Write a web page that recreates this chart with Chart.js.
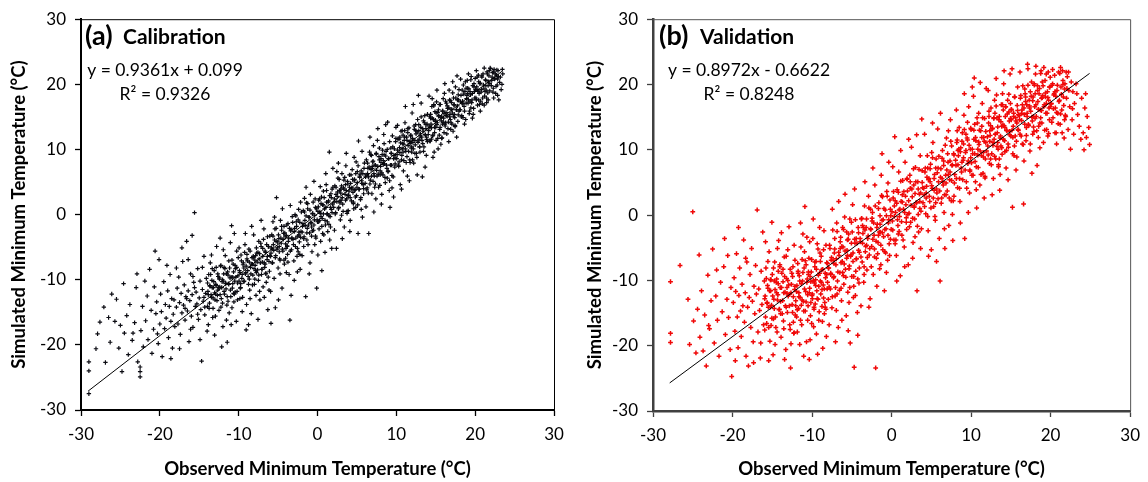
<!DOCTYPE html>
<html><head><meta charset="utf-8">
<script src="https://cdn.jsdelivr.net/npm/chart.js@4.4.1/dist/chart.umd.min.js"></script>
<style>
html,body{margin:0;padding:0;background:#fff;}
#wrap{position:relative;width:1148px;height:482px;overflow:hidden;background:#fff;}
canvas{position:absolute;top:0;}
#ca{left:0}
#cb{left:574px}
</style></head><body>
<div id="wrap"><canvas id="ca" width="574" height="482"></canvas><canvas id="cb" width="574" height="482"></canvas></div>
<script>
// ---- data ----
const axisTicks = [-30, -20, -10, 0, 10, 20, 30];
const xAxisTitle = 'Observed Minimum Temperature (°C)';
const yAxisTitle = 'Simulated Minimum Temperature (°C)';
const panelTags = ['(a)', '(b)'];
const panelNames = ['Calibration', 'Validation'];
const equations = ['y = 0.9361x + 0.099', 'y = 0.8972x - 0.6622'];
const r2Labels = ['R² = 0.9326', 'R² = 0.8248'];
const calibrationFit = [[-29.1, -27.1], [23.4, 22.0]];
const validationFit = [[-27.9, -25.7], [24.9, 21.7]];

// (observed, simulated) pairs, panel (a): scattered points
const calibrationPoints = [
[-29,-22.6],[-29,-24],[-29,-27.5],[-28.1,-20.6],[-27.6,-16.5],[-27.1,-14.2],[-26.9,-22.7],[-26.5,-15.8],[-26.3,-19.6],[-26.1,-12.2],[-27.9,-18.3],
[-25.5,-13],[-25,-17],[-25.2,-20.5],[-24.8,-24.1],[-24.5,-18.2],[-24.2,-15.5],[-24,-21.5],[-23.8,-13.8],[-23.5,-19.3],[-23.2,-16.6],[-23,-11.2],[-22.8,-22.6],[-22.5,-23.4],[-22.5,-24.1],[-22.5,-24.9],[-22.4,-17.8],[-22.2,-14.1],[-22.1,-20.3],[-22.9,-9.1],[-24.6,-10.6],[-25.7,-16.4],[-23.4,-18.2],
[-21.8,-16.3],[-21.6,-12.5],[-21.5,-19.2],[-21.3,-8.4],[-21.1,-14.7],[-21,-21.3],[-20.8,-17.6],[-20.7,-11.1],[-20.5,-15.2],[-20.4,-13.4],[-20.2,-19.8],[-20.1,-6.9],[-20,-16.8],[-19.9,-12.2],[-19.8,-14.9],[-19.7,-21.8],[-19.5,-10.3],[-19.4,-17.5],[-19.3,-13.8],[-19.2,-15.9],[-19,-11.7],[-18.9,-18.9],[-18.8,-14.1],[-18.7,-9.2],[-18.6,-16.4],[-18.5,-12.9],[-18.4,-20.5],[-18.3,-15.3],[-18.2,-13.1],[-18.1,-17.2],[-20.6,-5.6],[-21.9,-10.2],[-19.1,-7.8],[-18.6,-22.1],[-20.3,-18.3],
[-17.9,-14.2],[-17.8,-11.3],[-17.7,-16.8],[-17.6,-9.6],[-17.5,-13.5],[-17.4,-18.4],[-17.3,-12.1],[-17.2,-15.1],[-17.1,-7.2],[-17,-13.9],[-16.9,-10.8],[-16.8,-16.2],[-16.7,-12.6],[-16.6,-4.1],[-16.5,-14.8],[-16.4,-11.7],[-16.3,-19.5],[-16.2,-13.2],[-16.1,-9.1],[-16,-15.6],[-15.9,-12.3],[-15.8,-17.3],[-15.7,-10.4],[-15.6,0.3],[-15.5,-14.1],[-15.4,-11.9],[-15.3,-13.7],[-15.2,-8.3],[-15.1,-16.1],[-15,-12.8],[-14.9,-10.2],[-14.8,-14.6],[-14.7,-22.5],[-14.6,-11.5],[-14.5,-13.3],[-14.4,-6.4],[-14.3,-15.4],[-14.2,-12.1],[-14.1,-9.8],[-14,-17.9],[-17.5,-20.6],[-16.4,-6.9],[-15.9,-3.2],[-14.9,-19.2],[-15.6,-11.2],[-16.8,-14.4],[-17.2,-5.1],[-14.4,-12.7],[-15.2,-15.3],[-16.1,-17.6],[-14.6,-8.1],[-17.9,-8.2],[-15.8,-9.5],[-14.3,-14.2],[-16.6,-12.9],
[-13.9,-11.8],[-13.8,-9.2],[-13.7,-13.6],[-13.6,-7.4],[-13.5,-12.3],[-13.4,-10.1],[-13.3,-15.8],[-13.2,-11.2],[-13.1,-8.6],[-13,-13.1],[-12.9,-10.7],[-12.8,-4.9],[-12.7,-12.4],[-12.6,-9.5],[-12.5,-14.7],[-12.4,-11.1],[-12.3,-7.9],[-12.2,-12.9],[-12.1,-10.3],[-12,-17.2],[-11.9,-9.1],[-11.8,-12.2],[-11.7,-6.3],[-11.6,-11.4],[-11.5,-13.9],[-11.4,-8.8],[-11.3,-10.6],[-11.2,-15.1],[-11.1,-9.7],[-11,-12.6],[-10.9,-1.7],[-10.8,-11.3],[-10.7,-7.6],[-10.6,-13.4],[-10.5,-10.2],[-10.4,-8.3],[-10.3,-16.4],[-10.2,-11.8],[-10.1,-9.4],[-13.85,-16.9],[-13.45,-6.2],[-13.05,-18.5],[-12.65,-11.6],[-12.25,-14.2],[-11.85,-8.1],[-11.45,-19.6],[-11.05,-4.3],[-10.65,-12.1],[-10.25,-5.6],[-13.65,-10.9],[-13.25,-12.8],[-12.85,-8.1],[-12.45,-9.9],[-12.05,-13.6],[-11.65,-10.5],[-11.25,-7.1],[-10.85,-14.3],[-10.45,-11.9],[-10.15,-13.1],[-13.95,-14.1],[-12.95,-15.6],[-11.95,-5.4],[-10.95,-16.9],[-10.55,-2.9],[-12.35,-3.6],[-13.35,-8.3],[-11.35,-13.3],[-10.75,-9.6],[-12.15,-20.3],[-11.55,-16.2],
[-9.9,-8.6],[-9.8,-11.3],[-9.7,-6.2],[-9.6,-9.8],[-9.5,-12.7],[-9.4,-7.4],[-9.3,-10.2],[-9.2,-4.6],[-9.1,-8.9],[-9,-13.8],[-8.9,-7.1],[-8.8,-9.5],[-8.7,-5.3],[-8.6,-11.6],[-8.5,-8.1],[-8.4,-15.2],[-8.3,-6.6],[-8.2,-9.3],[-8.1,-3.1],[-8,-10.7],[-7.9,-7.8],[-7.8,-12.4],[-7.7,-5.9],[-7.6,-8.5],[-7.5,-10.1],[-7.4,-6.8],[-7.3,-13.1],[-7.2,-4.4],[-7.1,-9.2],[-7,-7.3],[-6.9,-11.1],[-6.8,-2.2],[-6.7,-8.1],[-6.6,-5.8],[-6.5,-10.4],[-6.4,-6.9],[-6.3,-14.6],[-6.2,-4.9],[-6.1,-8.7],[-9.95,-5.1],[-9.55,-14.9],[-9.15,-2.9],[-8.75,-16.9],[-8.35,-1.8],[-7.95,-9.9],[-7.55,-16.1],[-7.15,-0.9],[-6.75,-12.7],[-6.35,-3.4],[-9.75,-10.6],[-9.35,-8.2],[-8.95,-6.1],[-8.55,-12.9],[-8.15,-6.4],[-7.75,-8.9],[-7.35,-11.8],[-6.95,-5.2],[-6.55,-9.1],[-6.15,-11.6],[-9.85,-12.9],[-9.05,-17.7],[-8.25,-7.6],[-7.45,-4.1],[-6.65,-7.6],[-6.05,-6.3],[-8.65,-9.9],[-7.85,-6.3],[-7.05,-8.4],[-6.25,-9.6],[-5.9,-16.7],
[-5.9,-5.9],[-5.8,-3.1],[-5.7,-7.4],[-5.6,-4.6],[-5.5,-9.8],[-5.4,-2.2],[-5.3,-6.3],[-5.2,2.6],[-5.1,-5.1],[-5,-8.2],[-4.9,-3.7],[-4.8,-6.8],[-4.7,-0.9],[-4.6,-4.4],[-4.5,-11.3],[-4.4,-5.6],[-4.3,-2.9],[-4.2,-7.6],[-4.1,-3.4],[-4,-5.2],[-3.9,-1.6],[-3.8,-6.1],[-3.7,-4.1],[-3.6,-9.2],[-3.5,-16.2],[-3.4,-2.5],[-3.3,-5.4],[-3.2,-0.3],[-3.1,-3.8],[-3,-7.1],[-2.9,-2.1],[-2.8,-4.9],[-2.7,-1.1],[-2.6,-6.4],[-2.5,-3.3],[-2.4,0.8],[-2.3,-4.2],[-2.2,-8.4],[-2.1,-2.6],[-5.95,-11.8],[-5.45,-0.4],[-4.95,-13.1],[-4.45,0.9],[-3.95,-8.9],[-3.45,1.4],[-2.95,-10.1],[-2.45,-5.7],[-5.75,-5.3],[-5.25,-4.1],[-4.75,-9.1],[-4.25,-1.8],[-3.75,-7.3],[-3.25,-3.6],[-2.75,-0.2],[-2.25,-6.1],[-5.65,-1.1],[-4.85,-5.7],[-4.05,-6.7],[-3.35,-12.4],[-2.55,-8.8],[-2.15,1.9],[-5.35,-14.3],[-4.55,-2.4],[-3.85,-4.8],[-2.35,-3.1],
[-1.9,-1.8],[-1.8,0.6],[-1.7,-3.4],[-1.6,-0.9],[-1.5,-12.6],[-1.4,1.8],[-1.3,-2.1],[-1.2,-4.6],[-1.1,-0.4],[-1,-2.8],[-0.9,3.1],[-0.8,-1.3],[-0.7,-5.7],[-0.6,0.2],[-0.5,-2.4],[-0.4,-0.8],[-0.3,2.4],[-0.2,-3.6],[-0.1,-11.3],[0,-1.1],[0.1,1.2],[0.2,-2.2],[0.3,0.4],[0.4,-4.1],[0.5,2.7],[0.6,-0.6],[0.7,1.5],[0.8,-3.1],[0.9,0.9],[1,-1.6],[1.1,4.6],[1.2,0.1],[1.3,-2.6],[1.4,2.1],[1.5,9.6],[1.6,-0.3],[1.7,3.2],[1.8,-5.2],[1.9,1.6],[-1.95,-6.3],[-1.45,4.2],[-0.95,-7.4],[-0.45,5.1],[0.05,-6.2],[0.55,-8.6],[1.05,6.3],[1.55,-3.9],[1.95,7.1],[-1.75,-4.9],[-1.25,0.9],[-0.75,-1.9],[-0.25,1.1],[0.25,-0.9],[0.75,3.6],[1.25,-1.1],[1.75,0.8],[-1.65,2.5],[-1.05,-9.1],[-0.35,-4.6],[0.35,4.3],[0.95,-5.8],[1.45,-0.1],[1.85,3.9],[-1.35,-3.9],[-0.65,-2.5],[0.15,2.2],[0.65,-2.9],[1.15,1.9],[1.65,-1.9],[0.45,-0.3],
[2.1,1.9],[2.2,4.4],[2.3,0.3],[2.4,-5.2],[2.5,2.8],[2.6,5.6],[2.7,1.1],[2.8,3.7],[2.9,-0.8],[3,2.2],[3.1,6.3],[3.2,1.6],[3.3,4.1],[3.4,-1.9],[3.5,3.1],[3.6,7.5],[3.7,2.4],[3.8,5.1],[3.9,0.6],[4,3.6],[4.1,-2.6],[4.2,4.8],[4.3,2.1],[4.4,6.9],[4.5,3.4],[4.6,0.9],[4.7,5.4],[4.8,2.7],[4.9,8.1],[5,4.2],[5.1,1.5],[5.2,11.3],[5.3,3.9],[5.4,6.2],[5.5,2.6],[5.6,5.2],[5.7,-0.4],[5.8,4.6],[5.9,7.1],[2.15,-2.4],[2.65,7.9],[3.15,-3.7],[3.65,9.4],[4.15,-0.9],[4.65,8.8],[5.15,-2.9],[5.65,9.7],[2.35,3.1],[2.85,1.8],[3.35,5.3],[3.85,2.9],[4.35,4.1],[4.85,1.1],[5.35,5.9],[5.85,3.2],[2.45,6.6],[3.05,-0.1],[3.55,4.6],[4.05,6.1],[4.55,1.7],[5.05,6.6],[5.55,0.8],[2.95,3.9],[4.75,3.8],[3.75,0.2],
[6.1,5.8],[6.2,8.4],[6.3,4.1],[6.4,7.1],[6.5,-2.9],[6.6,9.6],[6.7,5.3],[6.8,6.9],[6.9,3.2],[7,8.1],[7.1,10.6],[7.2,5.9],[7.3,7.6],[7.4,2.4],[7.5,6.8],[7.6,11.4],[7.7,6.2],[7.8,8.9],[7.9,4.5],[8,7.4],[8.1,1.6],[8.2,9.2],[8.3,6.1],[8.4,12.3],[8.5,7.8],[8.6,4.9],[8.7,9.7],[8.8,7.1],[8.9,14.2],[9,8.6],[9.1,3.7],[9.2,1.1],[9.3,10.2],[9.4,7.6],[9.5,12.1],[9.6,5.8],[9.7,9.1],[9.8,7.3],[9.9,11.2],[6.15,1.2],[6.65,11.9],[7.15,0.4],[7.65,13.2],[8.15,3.1],[8.65,13.8],[9.15,5.2],[9.65,2.7],[6.35,6.3],[6.85,9.1],[7.35,4.7],[7.85,10.2],[8.35,8.3],[8.85,5.6],[9.35,9.4],[9.85,8.7],[6.45,3.3],[6.95,7.4],[7.45,9.3],[7.95,6.1],[8.45,10.9],[8.95,6.7],[9.45,4.1],[9.95,13.4],[7.05,5.1],[8.05,8.6],
[10.1,9.2],[10.2,11.6],[10.3,7.4],[10.4,10.3],[10.5,4.6],[10.6,12.8],[10.7,9.1],[10.8,10.9],[10.9,6.7],[11,11.4],[11.1,14.1],[11.2,9.7],[11.3,11.9],[11.4,5.9],[11.5,10.6],[11.6,13.3],[11.7,8.4],[11.8,12.1],[11.9,10.2],[12,15.6],[12.1,11.1],[12.2,7.9],[12.3,13.1],[12.4,10.7],[12.5,12.4],[12.6,8.8],[12.7,14.6],[12.8,18.3],[12.9,11.6],[13,9.6],[13.1,13.4],[13.2,11.9],[13.3,5.8],[13.4,12.8],[13.5,10.4],[13.6,15.2],[13.7,12.2],[13.8,9.1],[13.9,13.9],[10.15,13.7],[10.65,3.9],[11.15,16.6],[11.65,5.2],[12.15,16.9],[12.65,6.1],[13.15,17.1],[13.65,7.3],[10.35,8.1],[10.85,12.2],[11.35,8.9],[11.85,11.3],[12.35,9.4],[12.85,12.9],[13.35,10.9],[13.85,11.8],[10.45,11.9],[10.95,8.3],[11.45,12.6],[11.95,9.6],[12.45,13.8],[12.95,10.4],[13.45,14.4],[13.95,11.2],[10.75,10.1],[11.75,10.9],[12.75,11.1],[13.75,13.2],[11.05,12.9],[12.05,8.4],[13.05,12.1],
[14.1,12.9],[14.2,15.1],[14.3,11.3],[14.4,13.9],[14.5,16.6],[14.6,12.1],[14.7,14.6],[14.8,9.6],[14.9,15.8],[15,13.4],[15.1,17.3],[15.2,14.1],[15.3,10.1],[15.4,15.2],[15.5,13.1],[15.6,16.9],[15.7,14.4],[15.8,11.8],[15.9,15.9],[16,14.8],[16.1,18.6],[16.2,13.6],[16.3,15.7],[16.4,12.4],[16.5,16.3],[16.6,14.2],[16.7,19.1],[16.8,15.4],[16.9,13.1],[17,17.2],[17.1,15.6],[17.2,12.8],[17.3,16.8],[17.4,14.9],[17.5,19.6],[17.6,16.1],[17.7,21.3],[17.8,14.3],[17.9,17.6],[14.15,18.2],[14.65,8.8],[15.15,19.1],[15.65,10.8],[16.15,20.1],[16.65,11.2],[17.15,20.4],[17.65,11.9],[14.35,14.8],[14.85,12.6],[15.35,16.1],[15.85,13.9],[16.35,17.1],[16.85,14.6],[17.35,15.4],[17.85,18.4],[14.45,11.6],[14.95,14.3],[15.45,12.2],[15.95,17.8],[16.45,15.1],[16.95,16.2],[17.45,13.7],[17.95,15.9],[14.25,13.4],[14.75,16.9],[15.25,15.7],[15.75,15.1],[16.25,14.1],[16.75,17.6],[17.25,17.9],[17.75,16.7],[15.05,11.4],[16.05,12.6],[17.05,13.9],[14.55,17.8],
[18.1,16.1],[18.2,18.3],[18.3,15.2],[18.4,17.4],[18.5,19.9],[18.6,16.6],[18.7,18.9],[18.8,14.6],[18.9,17.8],[19,20.6],[19.1,17.1],[19.2,19.3],[19.3,15.9],[19.4,18.4],[19.5,21.2],[19.6,17.6],[19.7,19.8],[19.8,16.3],[19.9,18.9],[20,20.9],[20.1,17.9],[20.2,19.6],[20.3,16.8],[20.4,21.4],[20.5,18.6],[20.6,20.1],[20.7,17.4],[20.8,19.2],[20.9,17],[21,21.6],[21.1,19.4],[21.2,18.2],[21.3,20.7],[21.4,19.1],[21.5,21.9],[21.6,18.7],[21.7,20.4],[21.8,22.1],[21.9,22.5],[18.15,20.8],[18.65,13.9],[19.15,21.6],[19.65,14.8],[20.15,22.1],[20.65,15.9],[21.15,16.8],[21.65,17.6],[18.35,17.1],[18.85,19.4],[19.35,17.4],[19.85,20.1],[20.35,19.1],[20.85,21.1],[21.35,19.8],[21.85,20.1],[18.45,14.9],[19.45,16.4],[20.45,17.6],[21.45,17.9],[19.05,18.6],
[22.1,20.6],[22.2,21.8],[22.3,19.4],[22.4,22.3],[22.5,20.9],[22.6,18.6],[22.7,21.4],[22.8,19.9],[22.9,22.1],[23,17.6],[23.1,20.3],[23.2,21.1],[23.3,19.2],[23.4,20],[23.5,21.6],[22.35,17.9],[22.85,18.3],[23.45,22.3]
];

// panel (a): points of the dense central band, one row per 1 °C of observed value
const calibrationCorePoints = [
[-13.95,-10.5],[-13.85,-12.3],[-13.75,-14.4],[-13.65,-11.0],[-13.55,-9.2],[-13.45,-12.7],[-13.35,-11.2],[-13.25,-14.4],[-13.15,-10.3],[-13.05,-12.0],
[-12.95,-12.2],[-12.85,-10.9],[-12.75,-13.2],[-12.65,-9.1],[-12.55,-11.2],[-12.45,-9.7],[-12.35,-12.3],[-12.25,-7.8],[-12.15,-11.2],[-12.05,-10.0],
[-11.95,-10.2],[-11.85,-11.8],[-11.75,-8.3],[-11.65,-10.6],[-11.55,-9.1],[-11.45,-12.6],[-11.35,-9.3],[-11.25,-10.7],[-11.15,-8.2],[-11.05,-11.6],
[-10.95,-9.6],[-10.85,-7.0],[-10.75,-10.6],[-10.65,-8.8],[-10.55,-12.2],[-10.45,-7.8],[-10.35,-9.6],[-10.25,-8.1],[-10.15,-10.5],[-10.05,-6.6],
[-9.95,-10.2],[-9.85,-8.9],[-9.75,-11.2],[-9.65,-7.1],[-9.55,-9.2],[-9.45,-7.7],[-9.35,-10.3],[-9.25,-5.8],[-9.15,-9.1],[-9.05,-7.9],
[-8.95,-6.8],[-8.85,-8.6],[-8.75,-10.7],[-8.65,-7.3],[-8.55,-5.6],[-8.45,-9.1],[-8.35,-7.6],[-8.25,-10.8],[-8.15,-6.6],[-8.05,-8.3],
[-7.95,-7.0],[-7.85,-8.6],[-7.75,-5.1],[-7.65,-7.3],[-7.55,-5.8],[-7.45,-9.3],[-7.35,-6.0],[-7.25,-7.4],[-7.15,-4.9],[-7.05,-8.4],
[-6.95,-6.4],[-6.85,-3.8],[-6.75,-7.4],[-6.65,-5.6],[-6.55,-9.0],[-6.45,-4.6],[-6.35,-6.4],[-6.25,-4.9],[-6.15,-7.2],[-6.05,-3.3],
[-5.95,-6.4],[-5.85,-5.1],[-5.75,-7.4],[-5.65,-3.3],[-5.55,-5.5],[-5.45,-3.9],[-5.35,-6.6],[-5.25,-2.1],[-5.15,-5.4],[-5.05,-4.2],
[-4.95,-3.1],[-4.85,-4.9],[-4.75,-7.0],[-4.65,-3.6],[-4.55,-1.8],[-4.45,-5.3],[-4.35,-3.8],[-4.25,-7.0],[-4.15,-2.8],[-4.05,-4.5],
[-3.95,-3.2],[-3.85,-4.9],[-3.75,-1.4],[-3.65,-3.6],[-3.55,-2.1],[-3.45,-5.6],[-3.35,-2.3],[-3.25,-3.7],[-3.15,-1.2],[-3.05,-4.6],
[-2.95,-2.6],[-2.85,0.0],[-2.75,-3.6],[-2.65,-1.8],[-2.55,-5.2],[-2.45,-0.8],[-2.35,-2.7],[-2.25,-1.2],[-2.15,-3.5],[-2.05,0.4],
[-1.95,-2.7],[-1.85,-1.4],[-1.75,-3.7],[-1.65,0.4],[-1.55,-1.7],[-1.45,-0.2],[-1.35,-2.8],[-1.25,1.7],[-1.15,-1.6],[-1.05,-0.4],
[-0.95,0.7],[-0.85,-1.2],[-0.75,-3.3],[-0.65,0.1],[-0.55,1.9],[-0.45,-1.6],[-0.35,-0.1],[-0.25,-3.3],[-0.15,0.9],[-0.05,-0.8],
[0.05,0.5],[0.15,-1.1],[0.25,2.4],[0.35,0.2],[0.45,1.7],[0.55,-1.8],[0.65,1.5],[0.75,0.1],[0.85,2.6],[0.95,-0.9],
[1.05,1.1],[1.15,3.7],[1.25,0.1],[1.35,1.9],[1.45,-1.5],[1.55,2.9],[1.65,1.1],[1.75,2.6],[1.85,0.3],[1.95,4.2],
[2.05,1.1],[2.15,2.4],[2.25,0.1],[2.35,4.2],[2.45,2.0],[2.55,3.5],[2.65,0.9],[2.75,5.4],[2.85,2.1],[2.95,3.3],
[3.05,4.4],[3.15,2.6],[3.25,0.5],[3.35,3.9],[3.45,5.7],[3.55,2.2],[3.65,3.7],[3.75,0.5],[3.85,4.7],[3.95,3.0],
[4.05,4.2],[4.15,2.6],[4.25,6.1],[4.35,3.9],[4.45,5.4],[4.55,1.9],[4.65,5.2],[4.75,3.8],[4.85,6.3],[4.95,2.9],
[5.05,4.9],[5.15,7.5],[5.25,3.9],[5.35,5.7],[5.45,2.3],[5.55,6.7],[5.65,4.8],[5.75,6.3],[5.85,4.0],[5.95,7.9],
[6.05,4.8],[6.15,6.1],[6.25,3.8],[6.35,7.9],[6.45,5.8],[6.55,7.3],[6.65,4.7],[6.75,9.2],[6.85,5.9],[6.95,7.1],
[7.05,8.2],[7.15,6.3],[7.25,4.2],[7.35,7.6],[7.45,9.4],[7.55,5.9],[7.65,7.4],[7.75,4.2],[7.85,8.4],[7.95,6.7],
[8.05,8.0],[8.15,6.4],[8.25,9.9],[8.35,7.7],[8.45,9.2],[8.55,5.7],[8.65,9.0],[8.75,7.6],[8.85,10.0],[8.95,6.6],
[9.05,8.6],[9.15,11.2],[9.25,7.6],[9.35,9.4],[9.45,6.0],[9.55,10.4],[9.65,8.6],[9.75,10.1],[9.85,7.8],[9.95,11.7],
[10.05,8.6],[10.15,9.9],[10.25,7.6],[10.35,11.6],[10.45,9.5],[10.55,11.0],[10.65,8.4],[10.75,12.9],[10.85,9.6],[10.95,10.8],
[11.05,11.9],[11.15,10.1],[11.25,8.0],[11.35,11.4],[11.45,13.2],[11.55,9.7],[11.65,11.2],[11.75,8.0],[11.85,12.2],[11.95,10.4],
[12.05,11.7],[12.15,10.1],[12.25,13.6],[12.35,11.4],[12.45,12.9],[12.55,9.4],[12.65,12.7],[12.75,11.3],[12.85,13.8],[12.95,10.4],
[13.05,12.4],[13.15,15.0],[13.25,11.4],[13.35,13.2],[13.45,9.7],[13.55,14.1],[13.65,12.3],[13.75,13.8],[13.85,11.5],[13.95,15.4],
[14.05,12.3],[14.15,13.6],[14.25,11.3],[14.35,15.4],[14.45,13.3],[14.55,14.8],[14.65,12.2],[14.75,16.7],[14.85,13.4],[14.95,14.5],
[15.05,15.6],[15.15,13.8],[15.25,11.7],[15.35,15.1],[15.45,16.9],[15.55,13.4],[15.65,14.9],[15.75,11.7],[15.85,15.9],[15.95,14.2],
[16.05,15.5],[16.15,13.9],[16.25,17.4],[16.35,15.2],[16.45,16.7],[16.55,13.2],[16.65,16.4],[16.75,15.0],[16.85,17.5],[16.95,14.1],
[17.05,16.1],[17.15,18.7],[17.25,15.1],[17.35,16.9],[17.45,13.5],[17.55,17.9],[17.65,16.1],[17.75,17.6],[17.85,15.3],[17.95,19.2],
[18.05,16.1],[18.15,17.3],[18.25,15.0],[18.35,19.1],[18.45,17.0],[18.55,18.5],[18.65,15.9],[18.75,20.4],[18.85,17.1],[18.95,18.3],
[19.05,19.4],[19.15,17.6],[19.25,15.5],[19.35,18.9],[19.45,20.7],[19.55,17.2],[19.65,18.6],[19.75,15.4],[19.85,19.6],[19.95,17.9],
[20.05,19.2],[20.15,17.6],[20.25,21.1],[20.35,18.9],[20.45,20.4],[20.55,16.9],[20.65,20.2],[20.75,18.8],[20.85,21.3],[20.95,17.9],
[21.05,19.9],[21.15,22.5],[21.25,18.9],[21.35,20.6],[21.45,17.2],[21.55,21.6],[21.65,19.8],[21.75,21.3],[21.85,19.0],[21.95,22.4],
[22.05,19.8],[22.15,21.1],[22.25,18.8],[22.35,21.9],[22.45,20.8],[22.55,21.6],[22.65,19.7],[22.75,22.2],[22.85,20.8],[22.95,21.2]
];

// (observed, simulated) pairs, panel (b): scattered points
const validationPoints = [
[-27.8,-10.2],[-27.8,-18.1],[-27.8,-19.5],[-26.6,-7.7],[-25.6,-12.9],[-25,0.5],[-25.4,-19.8],[-24.9,-16.2],[-24.6,-21.1],[-24.4,-14.4],[-24.2,-6.1],[-24.1,-18.7],
[-23.9,-11.6],[-23.7,-20.8],[-23.5,-15.3],[-23.3,-23.1],[-23.1,-9.2],[-22.9,-17.4],[-22.7,-13.1],[-22.5,-5.2],[-22.3,-19.6],[-22.1,-12.4],[-21.9,-16.1],[-21.7,-21.6],[-21.5,-10.3],[-21.3,-14.8],[-21.1,-7.9],[-20.9,-18.3],[-20.7,-12.9],[-20.5,-15.7],[-20.3,-20.6],[-20.1,-24.7],[-20.2,-11.1],[-21,-3.6],[-22,-8.4],[-23,-16.9],[-20.6,-6.2],
[-19.9,-13.4],[-19.8,-9.6],[-19.7,-17.8],[-19.6,-11.7],[-19.5,-5.9],[-19.4,-15.6],[-19.3,-20.3],[-19.2,-12.3],[-19.1,-8.1],[-19,-14.7],[-18.9,-18.6],[-18.8,-10.6],[-18.7,-13.9],[-18.6,-3.8],[-18.5,-16.4],[-18.4,-11.9],[-18.3,-21.6],[-18.2,-7.2],[-18.1,-14.1],[-18,-23.1],[-17.9,-12.6],[-17.8,-9.1],[-17.7,-17.2],[-17.6,-5.1],[-17.5,-13.2],[-17.4,-19.4],[-17.3,-10.9],[-17.2,-15.1],[-17.1,-7.7],[-17,-12.1],[-16.9,0.8],[-16.8,-17.9],[-16.7,-11.3],[-16.6,-14.6],[-16.5,-21.9],[-16.4,-8.6],[-16.3,-13.7],[-16.2,-2.6],[-16.1,-16.8],[-16,-10.1],[-19.25,-1.9],[-18.35,-6.6],[-17.35,-22.6],[-16.45,-19.6],[-19.65,-22.3],
[-15.9,-12.4],[-15.8,-8.1],[-15.7,-16.6],[-15.6,-10.8],[-15.5,-14.1],[-15.4,-5.6],[-15.3,-19.3],[-15.2,-11.6],[-15.1,-13.8],[-15,-9.1],[-14.9,-21.4],[-14.8,-12.9],[-14.7,-7.2],[-14.6,-15.6],[-14.5,-10.3],[-14.4,-17.9],[-14.3,-12.2],[-14.2,-3.9],[-14.1,-14.4],[-14,-11.1],[-13.9,-18.7],[-13.8,-8.9],[-13.7,-13.1],[-13.6,-16.2],[-13.5,-6.4],[-13.4,-11.8],[-13.3,-20.6],[-13.2,-9.7],[-13.1,-14.9],[-13,-12.4],[-12.9,-1.8],[-12.8,-16.8],[-12.7,-23.4],[-12.6,-10.6],[-12.5,-13.7],[-12.4,-7.9],[-12.3,-18.1],[-12.2,-11.4],[-12.1,-15.3],[-15.85,-4.1],[-15.45,-22.3],[-15.05,-1.1],[-14.65,-19.8],[-14.25,-8.6],[-13.85,-2.7],[-13.45,-22.1],[-13.05,-5.3],[-12.65,-19.7],[-12.25,-4.6],[-15.65,-13.4],[-15.25,-9.9],[-14.85,-15.9],[-14.45,-11.9],[-14.05,-7.6],[-13.65,-10.2],[-13.25,-14.1],[-12.85,-12.1],[-12.45,-9.4],[-12.05,-13.1],[-15.95,-17.6],[-15.15,-16.9],[-14.35,-5.1],[-13.55,-17.4],[-12.75,-8.3],[-15.55,-7.1],[-14.75,-10.1],[-13.95,-15.1],[-13.15,-11.1],[-12.35,-16.4],[-12.15,-6.9],
[-11.9,-10.8],[-11.8,-7.4],[-11.7,-14.3],[-11.6,-9.3],[-11.5,-12.6],[-11.4,-4.9],[-11.3,-16.8],[-11.2,-10.1],[-11.1,-13.2],[-11,-8.1],[-10.9,1.3],[-10.8,-11.7],[-10.7,-19.4],[-10.6,-9.8],[-10.5,-13.9],[-10.4,-6.6],[-10.3,-11.2],[-10.2,-15.4],[-10.1,-8.7],[-10,-12.3],[-9.9,-3.6],[-9.8,-17.1],[-9.7,-10.4],[-9.6,-13.6],[-9.5,-7.1],[-9.4,-11.6],[-9.3,-21.3],[-9.2,-9.2],[-9.1,-14.8],[-9,-5.8],[-8.9,-12.1],[-8.8,-8.4],[-8.7,-16.3],[-8.6,-10.7],[-8.5,-2.4],[-8.4,-13.4],[-8.3,-9.6],[-8.2,-18.6],[-8.1,-11.3],[-11.85,-17.9],[-11.45,-1.2],[-11.05,-21.6],[-10.65,-3.4],[-10.25,-19.1],[-9.85,-0.6],[-9.45,-18.2],[-9.05,-1.9],[-8.65,-20.4],[-8.25,-4.6],[-11.65,-11.9],[-11.25,-6.8],[-10.85,-14.7],[-10.45,-9.1],[-10.05,-16.6],[-9.65,-7.9],[-9.25,-12.9],[-8.85,-6.3],[-8.45,-15.1],[-8.05,-7.4],[-11.75,-8.9],[-11.35,-13.8],[-10.95,-5.6],[-10.55,-12.2],[-10.15,-10.2],[-9.75,-14.4],[-9.35,-4.4],[-8.95,-10.1],[-8.55,-12.7],[-8.15,-9.1],[-11.95,-15.6],[-11.15,-2.9],[-10.35,-22.1],[-9.55,-9.9],[-8.75,-11.4],[-11.55,-19.8],[-10.75,-7.6],[-9.95,-12.8],[-9.15,-16.1],[-8.35,-14.1],[-10.3,-4.1],
[-7.9,-8.1],[-7.8,-4.6],[-7.7,-11.3],[-7.6,-6.9],[-7.5,-14.2],[-7.4,-2.3],[-7.3,-9.6],[-7.2,-5.8],[-7.1,-12.4],[-7,-7.6],[-6.9,-1.2],[-6.8,-10.1],[-6.7,-17.2],[-6.6,-6.2],[-6.5,-8.8],[-6.4,-3.4],[-6.3,-13.1],[-6.2,-7.1],[-6.1,-4.9],[-6,-10.6],[-5.9,-0.3],[-5.8,-8.3],[-5.7,-15.4],[-5.6,-5.4],[-5.5,-11.8],[-5.4,-2.9],[-5.3,-7.8],[-5.2,-19.6],[-5.1,-6.1],[-5,-9.4],[-4.9,1.6],[-4.8,-12.6],[-4.7,-23.3],[-4.6,-4.3],[-4.5,-8.6],[-4.4,-6.7],[-4.3,-14.9],[-4.2,-1.9],[-4.1,-10.4],[-7.85,-16.8],[-7.45,0.9],[-7.05,-19.4],[-6.65,2.1],[-6.25,-16.1],[-5.85,3.2],[-5.45,-17.7],[-5.05,-1.1],[-4.65,4.0],[-4.25,-18.4],[-7.65,-9.1],[-7.25,-7.4],[-6.85,-12.1],[-6.45,-5.1],[-6.05,-9.3],[-5.65,-6.6],[-5.25,-11.1],[-4.85,-7.1],[-4.45,-3.6],[-4.05,-8.1],[-7.95,-12.9],[-7.15,-3.6],[-6.35,-11.2],[-5.55,-3.8],[-4.75,-10.9],[-4.15,-5.4],[-6.95,-14.6],[-6.15,-1.9],[-5.35,-13.4],[-4.55,-12.3],
[-3.9,-4.1],[-3.8,-0.6],[-3.7,-7.2],[-3.6,-2.8],[-3.5,-10.3],[-3.4,1.4],[-3.3,-5.6],[-3.2,-1.9],[-3.1,-8.4],[-3,-3.6],[-2.9,2.9],[-2.8,-6.1],[-2.7,-12.8],[-2.6,-2.2],[-2.5,-4.8],[-2.4,0.4],[-2.3,-9.1],[-2.2,-3.1],[-2.1,4.6],[-2,-23.4],[-1.9,-6.6],[-1.8,-1.4],[-1.7,-4.2],[-1.6,1.9],[-1.5,-8.2],[-1.4,-2.6],[-1.3,6.1],[-1.2,-0.8],[-1.1,-5.3],[-1,-3.3],[-0.9,-11.6],[-0.8,0.8],[-0.7,-2.1],[-0.6,3.6],[-0.5,-6.9],[-0.4,-1.2],[-0.3,-4.4],[-0.2,2.3],[-0.1,-0.1],[-3.85,-13.9],[-3.35,5.1],[-2.85,-14.1],[-2.35,7.2],[-1.85,-10.9],[-1.35,-7.6],[-1.2,9.4],[-0.35,8.1],[-3.65,-1.6],[-3.15,-4.6],[-2.65,0.9],[-2.15,-6.4],[-1.65,-3.1],[-1.15,2.8],[-0.65,-8.8],[-0.15,-3.7],[-3.45,-9.1],[-2.45,-0.9],[-1.45,-1.4],[-0.45,4.9],[-0.85,-5.6],
[0.1,-0.9],[0.2,2.6],[0.3,-3.8],[0.4,12],[0.5,0.4],[0.6,-6.2],[0.7,3.9],[0.8,-1.6],[0.9,6.6],[1,-0.2],[1.1,-9.3],[1.2,2.1],[1.3,-3.1],[1.4,5.3],[1.5,0.9],[1.6,-4.9],[1.7,8.1],[1.8,1.6],[1.9,-2.2],[2,3.7],[2.1,-7.6],[2.2,0.3],[2.3,6.1],[2.4,-1.1],[2.5,10.4],[2.6,2.8],[2.7,-4.2],[2.8,4.6],[2.9,-0.6],[3,7.3],[3.1,1.9],[3.2,-11.6],[3.3,5.1],[3.4,-2.6],[3.5,3.2],[3.6,9.1],[3.7,0.6],[3.8,14.7],[3.9,4.2],[0.15,7.4],[0.65,-10.1],[1.15,9.9],[1.65,-7.9],[2.15,11.6],[2.65,-6.6],[3.15,12.3],[3.65,-5.1],[0.35,1.4],[0.85,-2.9],[1.35,3.1],[1.85,-0.4],[2.35,4.1],[2.85,1.2],[3.35,0.1],[3.85,6.8],[0.95,0.8],[1.95,5.6],[2.95,-3.3],[0.45,-4.4],[3.55,2.1],
[4.1,3.1],[4.2,6.6],[4.3,0.2],[4.4,4.4],[4.5,9.1],[4.6,-2.4],[4.7,5.6],[4.8,2.1],[4.9,7.8],[5,-5.3],[5.1,4.1],[5.2,11.1],[5.3,1.3],[5.4,6.2],[5.5,-0.8],[5.6,8.6],[5.7,3.4],[5.8,13.2],[5.9,5.1],[6,-3.6],[6.1,-10.1],[6.2,7.1],[6.3,2.6],[6.4,9.9],[6.5,4.6],[6.6,0.4],[6.7,-5.1],[6.8,6.1],[6.9,11.8],[7,3.7],[7.1,8.1],[7.2,-1.6],[7.3,5.4],[7.4,14.6],[7.5,2.2],[7.6,7.6],[7.7,-3.9],[7.8,9.4],[7.9,4.9],[4.15,12.4],[4.65,-6.3],[5.15,14.1],[5.65,-7.1],[6.15,15.6],[6.65,-2.1],[7.15,12.9],[7.65,0.1],[4.35,2.6],[4.85,5.1],[5.35,3.8],[5.85,7.2],[6.35,5.6],[6.85,3.1],[7.35,6.6],[7.85,2.9],[4.55,7.2],[5.55,1.9],[6.55,8.3],[7.55,10.6],[5.05,9.6],
[8.1,7.6],[8.2,11.1],[8.3,4.2],[8.4,9.1],[8.5,13.4],[8.6,2.1],[8.7,10.3],[8.8,6.6],[8.9,12.6],[9,8.4],[9.1,15.3],[9.2,-3.6],[9.3,9.6],[9.4,5.1],[9.5,11.8],[9.6,7.9],[9.7,16.6],[9.8,3.4],[9.9,10.1],[10,13.1],[10.1,6.1],[10.2,9.4],[10.3,18.2],[10.4,21],[10.5,8.2],[10.6,11.4],[10.7,1.1],[10.8,14.1],[10.9,7.3],[11,10.8],[11.1,4.6],[11.2,12.9],[11.3,9.1],[11.4,17.1],[11.5,6.4],[11.6,11.9],[11.7,14.8],[11.8,8.6],[11.9,19.4],[8.15,16.1],[8.65,-1.2],[9.15,18.6],[9.65,0.4],[10.15,19.6],[10.65,3.9],[11.15,20.3],[11.65,2.6],[8.35,9.9],[8.85,8.1],[9.35,12.4],[9.85,6.9],[10.35,11.6],[10.85,10.1],[11.35,13.6],[11.85,11.1],[8.55,5.6],[9.55,14.2],[10.55,5.1],[11.55,9.6],[8.25,12.9],[9.05,10.9],[9.95,8.8],[10.95,15.6],[11.75,5.9],[10.45,13.9],
[12.1,10.6],[12.2,14.1],[12.3,7.9],[12.4,12.2],[12.5,16.4],[12.6,9.4],[12.7,13.3],[12.8,5.6],[12.9,11.6],[13,15.6],[13.1,8.6],[13.2,18.4],[13.3,12.6],[13.4,10.1],[13.5,14.6],[13.6,3.8],[13.7,12.1],[13.8,16.9],[13.9,9.3],[14,13.8],[14.1,20.1],[14.2,11.4],[14.3,15.1],[14.4,7.2],[14.5,12.9],[14.6,17.6],[14.7,10.4],[14.8,14.4],[14.9,21.6],[15,12.1],[15.1,16.1],[15.2,1.2],[15.3,13.6],[15.4,9.1],[15.5,18.1],[15.6,14.9],[15.7,11.3],[15.8,16.8],[15.9,13.1],[12.15,19.1],[12.65,3.1],[13.15,20.9],[13.65,6.2],[14.15,22.1],[14.65,5.4],[15.15,22.4],[15.65,6.9],[12.35,12.9],[12.85,14.8],[13.35,11.1],[13.85,13.6],[14.35,16.6],[14.85,12.3],[15.35,15.6],[15.85,19.6],[12.45,8.6],[12.95,17.6],[13.45,7.4],[13.95,18.6],[14.45,9.9],[14.95,17.1],[15.45,10.6],[15.95,15.4],[12.25,15.9],[12.75,11.1],[13.25,14.9],[13.75,10.6],[14.25,13.4],[14.75,15.8],[15.25,11.9],[15.75,14.1],[13.05,12.4],[14.05,16.1],[15.05,14.6],[13.55,8.6],
[16.1,14.6],[16.2,17.9],[16.3,12.1],[16.4,16.1],[16.5,19.8],[16.6,1.7],[16.7,15.4],[16.8,18.6],[16.9,11.4],[17,16.9],[17.1,23.1],[17.2,13.9],[17.3,17.6],[17.4,9.8],[17.5,15.9],[17.6,20.4],[17.7,14.4],[17.8,18.1],[17.9,12.8],[18,16.6],[18.1,21.6],[18.2,15.1],[18.3,7.6],[18.4,17.4],[18.5,13.6],[18.6,19.4],[18.7,16.1],[18.8,22.1],[18.9,14.1],[19,18.3],[19.1,11.1],[19.2,16.9],[19.3,20.6],[19.4,15.6],[19.5,13.1],[19.6,18.9],[19.7,21.9],[19.8,16.4],[19.9,19.6],[16.15,21.9],[16.65,8.3],[17.15,22.4],[17.65,6.4],[18.15,22.8],[18.65,10.3],[19.15,22.6],[19.65,12.1],[16.35,15.6],[16.85,17.4],[17.35,16.4],[17.85,15.1],[18.35,19.1],[18.85,17.9],[19.35,18.1],[19.85,14.6],[16.45,10.9],[16.95,13.4],[17.45,18.9],[17.95,19.9],[18.45,11.9],[18.95,20.4],[19.45,17.1],[19.95,21.1],[16.75,19.3],[17.75,12.4],[18.75,14.9],[19.75,17.6],[17.05,15.1],[18.05,18.6],
[20.1,17.1],[20.2,19.9],[20.3,14.9],[20.4,18.4],[20.5,21.4],[20.6,16.4],[20.7,12.6],[20.8,19.1],[20.9,15.6],[21,21.9],[21.1,17.6],[21.2,13.9],[21.3,19.6],[21.4,16.1],[21.5,22.1],[21.6,18.1],[21.7,11.8],[21.8,20.1],[21.9,15.1],[22,17.9],[22.1,21.2],[22.2,13.1],[22.3,19.1],[22.4,16.6],[22.5,10.1],[22.6,20.4],[22.7,14.6],[22.8,18.9],[22.9,12.4],[23,17.1],[23.2,20.1],[23.4,15.4],[23.6,13.6],[23.8,11.6],[23.9,17.9],[20.25,22.3],[20.75,10.9],[21.25,22.6],[21.75,14.6],[22.25,21.9],[22.75,16.3],[23.3,18.6],[20.55,18.9],[21.55,20.6],[22.05,19.4],
[24.2,10],[24.4,18.6],[24.6,15.1],[24.9,10.8],[24.1,12.6],[24.3,16.4],[24.8,13.4],[24.5,11.9]
];

// panel (b): points of the dense central cloud, one row per 1 °C of observed value
const validationCorePoints = [
[-15.95,-12.8],[-15.85,-15.6],[-15.75,-9.7],[-15.65,-13.5],[-15.55,-11.2],[-15.45,-17.2],[-15.35,-11.6],[-15.25,-14.1],[-15.15,-9.9],[-15.05,-15.8],
[-14.95,-12.4],[-14.85,-8.1],[-14.75,-14.3],[-14.65,-11.4],[-14.55,-17.2],[-14.45,-9.8],[-14.35,-13.0],[-14.25,-10.5],[-14.15,-14.5],[-14.05,-7.9],
[-13.95,-13.2],[-13.85,-11.1],[-13.75,-15.1],[-13.65,-8.3],[-13.55,-11.9],[-13.45,-9.4],[-13.35,-13.9],[-13.25,-6.3],[-13.15,-12.0],[-13.05,-10.0],
[-12.95,-10.7],[-12.85,-13.9],[-12.75,-17.5],[-12.65,-11.9],[-12.55,-8.9],[-12.45,-14.9],[-12.35,-12.5],[-12.25,-18.0],[-12.15,-10.9],[-12.05,-13.9],
[-11.95,-11.7],[-11.85,-14.5],[-11.75,-8.6],[-11.65,-12.5],[-11.55,-10.1],[-11.45,-16.1],[-11.35,-10.5],[-11.25,-13.0],[-11.15,-8.8],[-11.05,-14.7],
[-10.95,-11.3],[-10.85,-7.0],[-10.75,-13.3],[-10.65,-10.3],[-10.55,-16.1],[-10.45,-8.7],[-10.35,-11.9],[-10.25,-9.4],[-10.15,-13.4],[-10.05,-6.8],
[-9.95,-12.1],[-9.85,-10.0],[-9.75,-14.1],[-9.65,-7.2],[-9.55,-10.8],[-9.45,-8.3],[-9.35,-12.8],[-9.25,-5.2],[-9.15,-10.9],[-9.05,-8.9],
[-8.95,-7.1],[-8.85,-10.3],[-8.75,-14.0],[-8.65,-8.3],[-8.55,-5.3],[-8.45,-11.3],[-8.35,-8.9],[-8.25,-14.4],[-8.15,-7.3],[-8.05,-10.3],
[-7.95,-8.1],[-7.85,-11.0],[-7.75,-5.1],[-7.65,-8.9],[-7.55,-6.5],[-7.45,-12.5],[-7.35,-6.9],[-7.25,-9.4],[-7.15,-5.2],[-7.05,-11.1],
[-6.95,-6.7],[-6.85,-2.5],[-6.75,-8.7],[-6.65,-5.7],[-6.55,-11.5],[-6.45,-4.1],[-6.35,-7.3],[-6.25,-4.8],[-6.15,-8.8],[-6.05,-2.2],
[-5.95,-7.5],[-5.85,-5.5],[-5.75,-9.5],[-5.65,-2.6],[-5.55,-6.2],[-5.45,-3.7],[-5.35,-8.2],[-5.25,-0.6],[-5.15,-6.3],[-5.05,-4.3],
[-4.95,-2.6],[-4.85,-5.8],[-4.75,-9.4],[-4.65,-3.7],[-4.55,-0.7],[-4.45,-6.7],[-4.35,-4.3],[-4.25,-9.8],[-4.15,-2.7],[-4.05,-5.7],
[-3.95,-3.6],[-3.85,-6.4],[-3.75,-0.5],[-3.65,-4.3],[-3.55,-1.9],[-3.45,-7.9],[-3.35,-2.3],[-3.25,-4.8],[-3.15,-0.6],[-3.05,-6.5],
[-2.95,-3.2],[-2.85,1.1],[-2.75,-5.1],[-2.65,-2.1],[-2.55,-7.9],[-2.45,-0.5],[-2.35,-3.7],[-2.25,-1.2],[-2.15,-5.2],[-2.05,1.4],
[-1.95,-4.0],[-1.85,-1.9],[-1.75,-5.9],[-1.65,1.0],[-1.55,-2.6],[-1.45,-0.1],[-1.35,-4.6],[-1.25,3.0],[-1.15,-2.7],[-1.05,-0.7],
[-0.95,1.0],[-0.85,-2.2],[-0.75,-5.8],[-0.65,-0.1],[-0.55,2.9],[-0.45,-3.1],[-0.35,-0.7],[-0.25,-6.2],[-0.15,0.9],[-0.05,-2.2],
[0.05,0.5],[0.15,-2.3],[0.25,3.6],[0.35,-0.2],[0.45,2.2],[0.55,-3.8],[0.65,1.8],[0.75,-0.7],[0.85,3.5],[0.95,-2.5],
[1.05,0.9],[1.15,5.2],[1.25,-1.0],[1.35,2.0],[1.45,-3.8],[1.55,3.6],[1.65,0.4],[1.75,2.9],[1.85,-1.1],[1.95,5.5],
[2.05,0.1],[2.15,2.2],[2.25,-1.8],[2.35,5.1],[2.45,1.5],[2.55,4.0],[2.65,-0.5],[2.75,7.1],[2.85,1.4],[2.95,3.3],
[3.05,5.1],[3.15,1.9],[3.25,-1.7],[3.35,4.0],[3.45,7.0],[3.55,1.0],[3.65,3.4],[3.75,-2.1],[3.85,5.0],[3.95,1.9],
[4.05,4.1],[4.15,1.3],[4.25,7.2],[4.35,3.4],[4.45,5.8],[4.55,-0.2],[4.65,5.4],[4.75,2.9],[4.85,7.1],[4.95,1.1],
[5.05,4.5],[5.15,8.8],[5.25,2.6],[5.35,5.6],[5.45,-0.2],[5.55,7.2],[5.65,4.0],[5.75,6.5],[5.85,2.5],[5.95,9.0],
[6.05,3.7],[6.15,5.8],[6.25,1.8],[6.35,8.7],[6.45,5.1],[6.55,7.6],[6.65,3.1],[6.75,10.7],[6.85,4.9],[6.95,6.9],
[7.05,9.4],[7.15,6.2],[7.25,2.6],[7.35,8.3],[7.45,11.3],[7.55,5.3],[7.65,7.7],[7.75,2.2],[7.85,9.2],[7.95,6.2],
[8.05,8.4],[8.15,5.6],[8.25,11.5],[8.35,7.7],[8.45,10.1],[8.55,4.1],[8.65,9.7],[8.75,7.2],[8.85,11.3],[8.95,5.4],
[9.05,8.8],[9.15,13.1],[9.25,6.9],[9.35,9.9],[9.45,4.1],[9.55,11.5],[9.65,8.3],[9.75,10.7],[9.85,6.7],[9.95,13.3],
[10.05,8.0],[10.15,10.1],[10.25,6.1],[10.35,13.0],[10.45,9.4],[10.55,11.9],[10.65,7.4],[10.75,14.9],[10.85,9.2],[10.95,11.2],
[11.05,13.0],[11.15,9.8],[11.25,6.2],[11.35,11.9],[11.45,14.9],[11.55,8.9],[11.65,11.3],[11.75,5.7],[11.85,12.8],[11.95,9.8],
[12.05,12.0],[12.15,9.2],[12.25,15.1],[12.35,11.3],[12.45,13.7],[12.55,7.7],[12.65,13.2],[12.75,10.7],[12.85,14.9],[12.95,9.0],
[13.05,12.4],[13.15,16.7],[13.25,10.5],[13.35,13.5],[13.45,7.7],[13.55,15.1],[13.65,11.8],[13.75,14.3],[13.85,10.3],[13.95,16.9],
[14.05,11.6],[14.15,13.7],[14.25,9.7],[14.35,16.6],[14.45,13.0],[14.55,15.5],[14.65,10.9],[14.75,18.5],[14.85,12.8],[14.95,14.8],
[15.05,16.2],[15.15,13.0],[15.25,9.4],[15.35,15.1],[15.45,18.1],[15.55,12.1],[15.65,14.4],[15.75,8.9],[15.85,16.0],[15.95,13.0],
[16.05,15.2],[16.15,12.4],[16.25,18.3],[16.35,14.5],[16.45,16.9],[16.55,10.8],[16.65,16.4],[16.75,13.9],[16.85,18.1],[16.95,12.2],
[17.05,15.6],[17.15,19.9],[17.25,13.7],[17.35,16.7],[17.45,10.9],[17.55,18.2],[17.65,15.0],[17.75,17.5],[17.85,13.5],[17.95,20.1],
[18.05,14.8],[18.15,16.9],[18.25,12.9],[18.35,19.8],[18.45,16.2],[18.55,18.6],[18.65,14.1],[18.75,21.7],[18.85,16.0],[18.95,18.0],
[19.05,19.8],[19.15,16.6],[19.25,13.0],[19.35,18.7],[19.45,21.6],[19.55,15.6],[19.65,18.0],[19.75,12.5],[19.85,19.6],[19.95,16.6],
[20.05,17.0],[20.15,14.2],[20.25,20.1],[20.35,16.3],[20.45,18.6],[20.55,12.6],[20.65,18.2],[20.75,15.7],[20.85,19.9],[20.95,14.0],
[21.05,17.4],[21.15,21.7],[21.25,15.5],[21.35,18.5],[21.45,12.6],[21.55,20.0],[21.65,16.8],[21.75,19.3],[21.85,15.3],[21.95,21.9]
];

// ---- rendering ----
const FONT = 'Lato, "Open Sans", sans-serif';
Chart.defaults.font.family = FONT;
Chart.defaults.color = '#000';

const frameAndText = {
  id: 'frameAndText',
  afterDraw(chart, args, o) {
    const {ctx, chartArea: a} = chart;
    ctx.save();
    ctx.strokeStyle = o.frameColor; ctx.lineWidth = 1;
    ctx.beginPath();
    ctx.moveTo(a.left, a.top + 0.5); ctx.lineTo(a.right + 0.5, a.top + 0.5); ctx.lineTo(a.right + 0.5, a.bottom);
    ctx.stroke();
    ctx.fillStyle = '#000'; ctx.textBaseline = 'alphabetic'; ctx.textAlign = 'left';
    ctx.font = 'bold 27px ' + FONT;
    ctx.fillText(o.tag, a.left + o.tagDx, a.top + 26);
    ctx.font = 'bold 21px ' + FONT;
    ctx.fillText(o.name, a.left + o.nameDx, a.top + 25);
    ctx.font = '17.5px ' + FONT; ctx.textAlign = 'center';
    ctx.fillText(o.eq, a.left + o.eqDx, a.top + 57);
    ctx.fillText(o.r2, a.left + o.eqDx, a.top + 81);
    ctx.restore();
  }
};

function axis(isX, titleText, color, width, size, titlePad, tickPad) {
  return {
    type: 'linear',
    min: axisTicks[0], max: axisTicks[axisTicks.length - 1],
    afterBuildTicks: s => { s.ticks = axisTicks.map(v => ({value: v})); },
    ticks: {color: '#000', font: {size: 17}, padding: tickPad, maxRotation: 0, autoSkip: false},
    grid: {drawOnChartArea: false, drawTicks: true, tickLength: 6, tickColor: color, tickWidth: 1.3},
    border: {display: true, color: color, width: width},
    title: {display: true, text: titleText, color: '#000', font: {size: 18.5, weight: 'bold'},
            padding: isX ? {top: 0, bottom: titlePad} : {top: titlePad, bottom: 0}},
    afterFit: s => { if (isX) s.height = size; else s.width = size; }
  };
}

function makePanel(id, points, fit, color, ptRadius, ptWidth, axisColor, axisWidth, yWidth, xHeight, rightPad, yTitlePad, text) {
  return new Chart(document.getElementById(id), {
    type: 'scatter',
    data: {
      datasets: [
        {type: 'line', data: fit.map(([x, y]) => ({x, y})), borderColor: '#000', borderWidth: 1,
         pointRadius: 0, fill: false, order: 0},
        {type: 'scatter', data: points.map(([x, y]) => ({x, y})), pointStyle: 'cross',
         pointRadius: ptRadius, pointBorderWidth: ptWidth, borderColor: color, backgroundColor: color, order: 1}
      ]
    },
    options: {
      responsive: false, animation: false, devicePixelRatio: 1, events: [],
      layout: {padding: {left: 0, top: 18, right: rightPad, bottom: 0}},
      plugins: {legend: {display: false}, tooltip: {enabled: false}, frameAndText: text},
      scales: {
        x: axis(true, xAxisTitle, axisColor, axisWidth, xHeight, 2, 8),
        y: axis(false, yAxisTitle, axisColor, axisWidth, yWidth, yTitlePad, 9)
      }
    },
    plugins: [frameAndText]
  });
}

function draw() {
  makePanel('ca', calibrationPoints.concat(calibrationCorePoints), calibrationFit, '#0b0b12', 2.2, 1.2, '#000', 2, 81, 72, 20, 8,
    {tag: panelTags[0], name: panelNames[0], eq: equations[0], r2: r2Labels[0], tagDx: 4, nameDx: 42, eqDx: 84, frameColor: '#000'});
  makePanel('cb', validationPoints.concat(validationCorePoints), validationFit, '#f00808', 2.4, 1.5, '#404040', 2.5, 79, 71, 15, 10,
    {tag: panelTags[1], name: panelNames[1], eq: equations[1], r2: r2Labels[1], tagDx: 6, nameDx: 47, eqDx: 96, frameColor: '#555'});
}
if (document.fonts && document.fonts.load) {
  Promise.all([document.fonts.load('16px Lato'), document.fonts.load('bold 16px Lato')]).then(draw, draw);
} else draw();
</script>
</body></html>
